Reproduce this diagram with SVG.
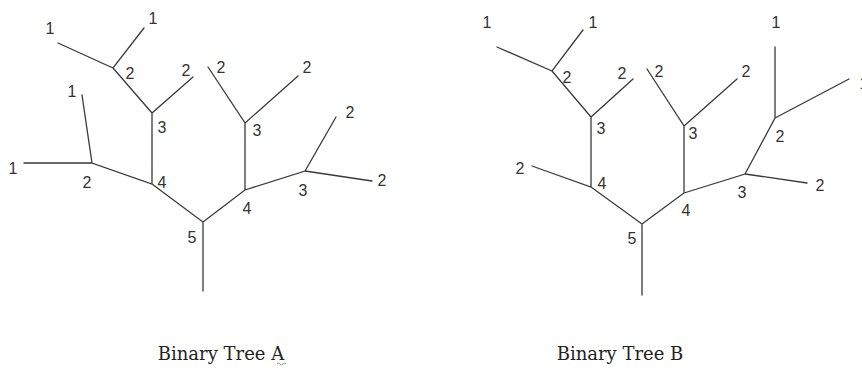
<svg xmlns="http://www.w3.org/2000/svg" width="862" height="370" viewBox="0 0 862 370">
<style>
.e{stroke:#3a3a3a;stroke-width:1.3;fill:none;stroke-linecap:round}
.l{font-family:"Liberation Sans","DejaVu Sans",sans-serif;font-size:16px;fill:#333;text-anchor:middle;dominant-baseline:central}
.t{font-family:"DejaVu Serif","Liberation Serif",serif;font-size:18px;fill:#222;text-anchor:middle}
</style>
<rect width="862" height="370" fill="#fff"/>
<g id="connectors">
<!-- Tree A -->
<path class="e" d="M58,43 L113,68 L144,28 M113,68 L152,113 L193,77 M152,113 L152,184 L92,163 L82,95 M92,163 L24,163 M152,184 L203,222 L203,291 M203,222 L245,190 L245,123 L208,67 M245,123 L298,76 M245,190 L305,171 L336,117 M305,171 L372,181"/>
<!-- Tree B -->
<path class="e" d="M497,47 L552,71 L583,30 M552,71 L591,117 L633,79 M591,117 L591,187 L532,166 M591,187 L642,224 L642,295 M642,224 L684,193 L684,126 L647,69 M684,126 L737,79 M684,193 L745,174 L775,118 L775,47 M775,118 L849,79 M745,174 L807,183"/>
</g>
<g id="treeA">
<g id="a-leaf1"><text class="l" x="50" y="28">1</text></g>
<g id="a-leaf2"><text class="l" x="153" y="18">1</text></g>
<g id="a-n2a"><text class="l" x="130" y="73">2</text></g>
<g id="a-leaf3"><text class="l" x="186" y="70">2</text></g>
<g id="a-n3a"><text class="l" x="162" y="127">3</text></g>
<g id="a-leaf4"><text class="l" x="72" y="91">1</text></g>
<g id="a-leaf5"><text class="l" x="13" y="168">1</text></g>
<g id="a-n2b"><text class="l" x="87" y="182">2</text></g>
<g id="a-n4a"><text class="l" x="162" y="182">4</text></g>
<g id="a-leaf6"><text class="l" x="221" y="67">2</text></g>
<g id="a-leaf7"><text class="l" x="307" y="67">2</text></g>
<g id="a-n3b"><text class="l" x="257" y="130">3</text></g>
<g id="a-leaf8"><text class="l" x="350" y="112">2</text></g>
<g id="a-leaf9"><text class="l" x="382" y="180">2</text></g>
<g id="a-n3c"><text class="l" x="303" y="190">3</text></g>
<g id="a-n4b"><text class="l" x="247" y="208">4</text></g>
<g id="a-root"><text class="l" x="192" y="237">5</text></g>
<g id="titleA"><text class="t" x="221" y="360">Binary Tree A</text>
<path d="M277,364 q1.5,-2 3,0 t3,0 t3,0" stroke="#5a8a3a" stroke-width="0.8" fill="none"/></g>
</g>
<g id="treeB">
<g id="b-leaf1"><text class="l" x="487" y="22">1</text></g>
<g id="b-leaf2"><text class="l" x="593" y="22">1</text></g>
<g id="b-n2a"><text class="l" x="567" y="77">2</text></g>
<g id="b-leaf3"><text class="l" x="622" y="73">2</text></g>
<g id="b-n3a"><text class="l" x="601" y="128">3</text></g>
<g id="b-leaf4"><text class="l" x="520" y="168">2</text></g>
<g id="b-n4a"><text class="l" x="602" y="183">4</text></g>
<g id="b-leaf5"><text class="l" x="659" y="71">2</text></g>
<g id="b-leaf6"><text class="l" x="746" y="71">2</text></g>
<g id="b-n3b"><text class="l" x="693" y="133">3</text></g>
<g id="b-leaf7"><text class="l" x="776" y="22">1</text></g>
<g id="b-leaf8"><text class="l" x="864" y="83">1</text></g>
<g id="b-n2b"><text class="l" x="780" y="136">2</text></g>
<g id="b-n3c"><text class="l" x="742" y="192">3</text></g>
<g id="b-leaf9"><text class="l" x="820" y="185">2</text></g>
<g id="b-n4b"><text class="l" x="686" y="210">4</text></g>
<g id="b-root"><text class="l" x="632" y="238">5</text></g>
<g id="titleB"><text class="t" x="620" y="360">Binary Tree B</text></g>
</g>
</svg>
